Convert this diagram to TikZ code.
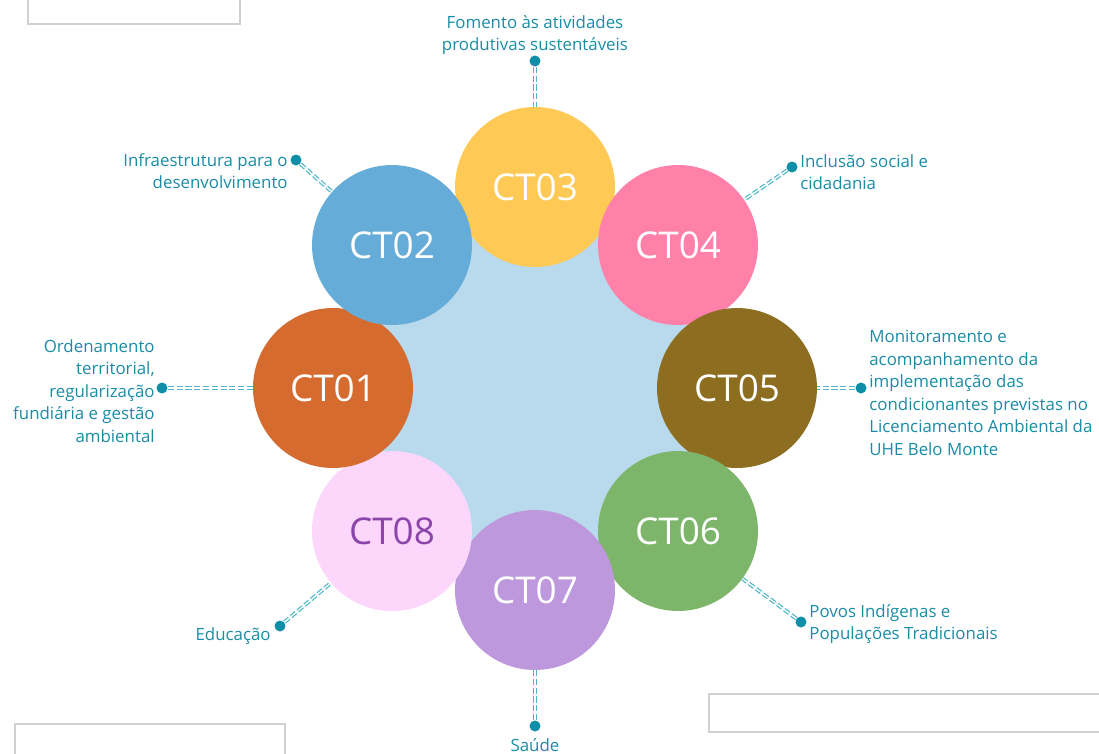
\documentclass[tikz,border=0pt]{standalone}
\usepackage{fontspec}
\setmainfont{Open Sans}
\usetikzlibrary{positioning}

\definecolor{hubc}{HTML}{B9D9EC}
\definecolor{c01}{HTML}{D66B2F}
\definecolor{c02}{HTML}{66ACD8}
\definecolor{c03}{HTML}{FFC955}
\definecolor{c04}{HTML}{FF80A8}
\definecolor{c05}{HTML}{8D6D20}
\definecolor{c06}{HTML}{7DB66A}
\definecolor{c07}{HTML}{BE98DC}
\definecolor{c08}{HTML}{FDD6FB}
\definecolor{t08}{HTML}{8B45AA}
\definecolor{labelc}{HTML}{1A8CA6}
\definecolor{dotc}{HTML}{0F8EA8}
\definecolor{linkc}{HTML}{4FB6C9}
\definecolor{boxc}{HTML}{D0D0D0}

\begin{document}
\begin{tikzpicture}[x=0.02cm,y=-0.02cm,
    ring/.style={circle,minimum size=3.2cm,inner sep=0pt,text=white,font=\fontsize{21}{21}\selectfont},
    dot/.style={circle,fill=dotc,inner sep=0pt,minimum size=0.22cm},
    link/.style={draw=linkc,line width=0.7pt,double=white,double distance=0.8pt,dash pattern=on 3.5pt off 1.5pt},
    lbl/.style={text=labelc,font=\fontsize{9.6}{12.8}\selectfont,inner sep=0pt}]
    	\useasboundingbox (0,0) rectangle (1099,754);

    	% empty frames at the edges
    	\draw[boxc,line width=0.6pt] (28,0) -- (28,24) -- (240,24) -- (240,0);
    	\draw[boxc,line width=0.6pt] (15,754) -- (15,724) -- (285,724) -- (285,754);
    	\draw[boxc,line width=0.6pt] (1099,694) -- (709,694) -- (709,732) -- (1099,732);

    	% hub behind the ring
    	\fill[hubc] (535,187) -- (678,245) -- (737,388) -- (678,531) -- (535,590) -- (392,531) -- (333,388) -- (392,245) -- cycle;

    	% ring, clockwise from the top
    	\node[ring,fill=c03] (ct03) at (535,187) {CT03};
    	\node[ring,fill=c04] (ct04) at (678,245) {CT04};
    	\node[ring,fill=c05] (ct05) at (737,388) {CT05};
    	\node[ring,fill=c06] (ct06) at (678,531) {CT06};
    	\node[ring,fill=c07] (ct07) at (535,590) {CT07};
    	\node[ring,fill=c08,text=t08] (ct08) at (392,531) {CT08};
    	\node[ring,fill=c01] (ct01) at (333,388) {CT01};
    	\node[ring,fill=c02] (ct02) at (392,245) {CT02};

    	% pins
    	\node[dot] (d03) at (535,61) {};
    	\node[dot] (d04) at (792,167) {};
    	\node[dot] (d05) at (861,388) {};
    	\node[dot] (d06) at (801,622) {};
    	\node[dot] (d07) at (535,726) {};
    	\node[dot] (d08) at (280,626) {};
    	\node[dot] (d01) at (162,388) {};
    	\node[dot] (d02) at (296,160) {};

    	\foreach \n in {01,02,03,04,05,06,07,08}
    	    \draw[link] (d\n) -- (ct\n);

    	% topics
    	\node[lbl,align=center] (l03) at (535,35) {Fomento às atividades\\produtivas sustentáveis};
    	\node[lbl,align=left,anchor=west] (l04) at (800,172) {Inclusão social e\\cidadania};
    	\node[lbl,align=left,anchor=west] (l05) at (869,393) {Monitoramento e\\acompanhamento da\\implementação das\\condicionantes previstas no\\Licenciamento Ambiental da\\UHE Belo Monte};
    	\node[lbl,align=left,anchor=west] (l06) at (809,624) {Povos Indígenas e\\Populações Tradicionais};
    	\node[lbl] (l07) at (535,745) {Saúde};
    	\node[lbl,anchor=east] (l08) at (271,636) {Educação};
    	\node[lbl,align=right,anchor=east] (l01) at (155,391) {Ordenamento\\territorial,\\regularização\\fundiária e gestão\\ambiental};
    	\node[lbl,align=right,anchor=east] (l02) at (288,171) {Infraestrutura para o\\desenvolvimento};
\end{tikzpicture}
\end{document}
